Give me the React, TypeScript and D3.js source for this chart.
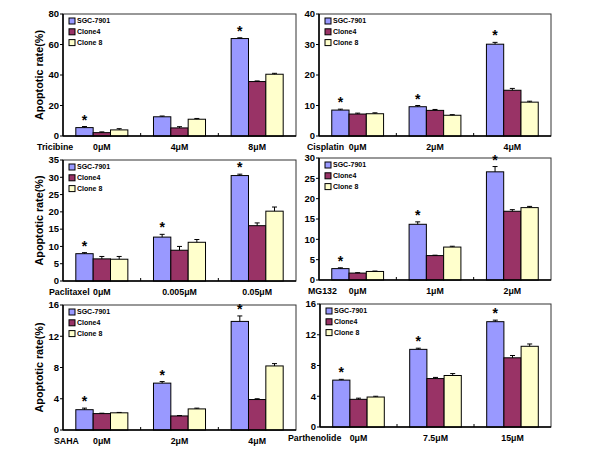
import React from "react";
import * as d3 from "d3";

// series names and colours (Excel-like palette)
const seriesNames = ["SGC-7901", "Clone4", "Clone 8"];
const seriesColors = ["#9999FF", "#993366", "#FFFFCC"];

// --- Tricibine
const tricibineDoses = ["0μM", "4μM", "8μM"];
const tricibineValues = [
  [5.5, 12.6, 63.9],
  [2.2, 5.3, 35.7],
  [4.0, 11.0, 40.5],
];
const tricibineErrors = [
  [0.7, 0.5, 0.5],
  [0.5, 0.8, 0.4],
  [0.8, 0.5, 0.6],
];
const tricibineStars = [true, false, true];
const tricibineTicks = [0, 20, 40, 60, 80];

// --- Cisplatin
const cisplatinDoses = ["0μM", "2μM", "4μM"];
const cisplatinValues = [
  [8.5, 9.6, 30.1],
  [7.2, 8.4, 15.0],
  [7.3, 6.8, 11.1],
];
const cisplatinErrors = [
  [0.3, 0.4, 0.6],
  [0.3, 0.3, 0.6],
  [0.3, 0.2, 0.3],
];
const cisplatinStars = [true, true, true];
const cisplatinTicks = [0, 10, 20, 30, 40];

// --- Paclitaxel
const paclitaxelDoses = ["0μM", "0.005μM", "0.05μM"];
const paclitaxelValues = [
  [7.9, 12.7, 30.5],
  [6.4, 8.9, 16.0],
  [6.3, 11.2, 20.2],
];
const paclitaxelErrors = [
  [0.3, 0.8, 0.4],
  [0.7, 1.1, 0.8],
  [0.8, 0.8, 1.2],
];
const paclitaxelStars = [true, true, true];
const paclitaxelTicks = [0, 5, 10, 15, 20, 25, 30, 35];

// --- MG132
const mg132Doses = ["0μM", "1μM", "2μM"];
const mg132Values = [
  [2.8, 13.7, 26.6],
  [1.7, 6.0, 16.9],
  [2.1, 8.1, 17.8],
];
const mg132Errors = [
  [0.2, 0.6, 1.3],
  [0.1, 0.1, 0.4],
  [0.1, 0.2, 0.3],
];
const mg132Stars = [true, true, true];
const mg132Ticks = [0, 5, 10, 15, 20, 25, 30];

// --- SAHA
const sahaDoses = ["0μM", "2μM", "4μM"];
const sahaValues = [
  [2.6, 6.0, 13.9],
  [2.1, 1.8, 3.9],
  [2.2, 2.7, 8.2],
];
const sahaErrors = [
  [0.2, 0.2, 0.7],
  [0.05, 0.05, 0.1],
  [0.05, 0.1, 0.3],
];
const sahaStars = [true, true, true];
const sahaTicks = [0, 4, 8, 12, 16];

// --- Parthenolide
const parthenolideDoses = ["0μM", "7.5μM", "15μM"];
const parthenolideValues = [
  [6.1, 10.1, 13.7],
  [3.6, 6.3, 9.0],
  [3.9, 6.7, 10.5],
];
const parthenolideErrors = [
  [0.1, 0.15, 0.2],
  [0.15, 0.15, 0.3],
  [0.1, 0.25, 0.3],
];
const parthenolideStars = [true, true, true];
const parthenolideTicks = [0, 4, 8, 12, 16];

const font = "'Liberation Sans', Arial, sans-serif";

interface PanelProps {
  drug: string;
  doses: string[];
  values: number[][];
  errors: number[][];
  stars: boolean[];
  ticks: number[];
  box: { left: number; right: number; top: number; bottom: number };
  drugX: number;
  yTitle?: boolean;
}

const Panel: React.FC<PanelProps> = ({ drug, doses, values, errors, stars, ticks, box, drugX, yTitle }) => {
  const x = d3
    .scaleBand<string>()
    .domain(doses)
    .range([box.left, box.right])
    .paddingInner(0.33)
    .paddingOuter(0.165);
  const xs = d3.scaleBand<number>().domain(d3.range(seriesNames.length)).range([0, x.bandwidth()]);
  const y = d3
    .scaleLinear()
    .domain([0, d3.max(ticks)!])
    .range([box.bottom, box.top]);
  const step = x.step();

  return (
    <g>
      <rect
        x={box.left}
        y={box.top}
        width={box.right - box.left}
        height={box.bottom - box.top}
        fill="white"
        stroke="#333"
        strokeWidth={1}
      />
      {/* bars */}
      {values.map((row, s) =>
        row.map((v, i) => {
          const bx = x(doses[i])! + xs(s)!;
          const top = y(v);
          const errTop = y(v + errors[s][i]);
          const cx = bx + xs.bandwidth() / 2;
          return (
            <g key={`${s}-${i}`}>
              <rect
                x={bx}
                y={top}
                width={xs.bandwidth()}
                height={y(0) - top}
                fill={seriesColors[s]}
                stroke="black"
                strokeWidth={1}
              />
              <line x1={cx} x2={cx} y1={top} y2={errTop} stroke="black" strokeWidth={1} />
              <line x1={cx - 2.5} x2={cx + 2.5} y1={errTop} y2={errTop} stroke="black" strokeWidth={1} />
              {s === 0 && stars[i] && (
                <text
                  x={cx}
                  y={errTop - 2}
                  textAnchor="middle"
                  fontFamily={font}
                  fontWeight="bold"
                  fontSize={14}
                >
                  *
                </text>
              )}
            </g>
          );
        })
      )}
      {/* axes */}
      <line x1={box.left} x2={box.left} y1={box.top} y2={box.bottom} stroke="black" strokeWidth={1.5} />
      <line x1={box.left} x2={box.right} y1={box.bottom} y2={box.bottom} stroke="black" strokeWidth={1.5} />
      {ticks.map((t) => (
        <g key={t}>
          <line x1={box.left - 3} x2={box.left} y1={y(t)} y2={y(t)} stroke="black" />
          <text
            x={box.left - 4}
            y={y(t)}
            dy="0.35em"
            textAnchor="end"
            fontFamily={font}
            fontWeight="bold"
            fontSize={9.5}
          >
            {t}
          </text>
        </g>
      ))}
      {doses.slice(1).map((d) => {
        const tx = x(d)! - (step - x.bandwidth()) / 2;
        return <line key={d} x1={tx} x2={tx} y1={box.bottom} y2={box.bottom - 3} stroke="black" />;
      })}
      {doses.map((d) => (
        <text
          key={d}
          x={x(d)! + x.bandwidth() / 2}
          y={box.bottom + 14}
          textAnchor="middle"
          fontFamily={font}
          fontWeight="bold"
          fontSize={8.8}
        >
          {d}
        </text>
      ))}
      <text x={drugX} y={box.bottom + 14} fontFamily={font} fontWeight="bold" fontSize={8.8}>
        {drug}
      </text>
      {/* legend */}
      {seriesNames.map((n, s) => (
        <g key={n}>
          <rect
            x={box.left + 6}
            y={box.top + 4 + s * 10.8}
            width={6}
            height={6}
            fill={seriesColors[s]}
            stroke="black"
            strokeWidth={1}
          />
          <text
            x={box.left + 14}
            y={box.top + 7 + s * 10.8}
            dy="0.35em"
            fontFamily={font}
            fontWeight="bold"
            fontSize={7}
          >
            {n}
          </text>
        </g>
      ))}
      {yTitle && (
        <text
          transform={`translate(39,${(box.top + box.bottom) / 2}) rotate(-90)`}
          textAnchor="middle"
          dy="0.35em"
          fontFamily={font}
          fontWeight="bold"
          fontSize={10.8}
        >
          Apoptotic rate(%)
        </text>
      )}
    </g>
  );
};

export default function App() {
  return (
    <svg
      width={600}
      height={450}
      viewBox="0 0 600 450"
      style={{ position: "absolute", left: 0, top: 0, background: "white" }}
    >
      <Panel
        drug="Tricibine"
        doses={tricibineDoses}
        values={tricibineValues}
        errors={tricibineErrors}
        stars={tricibineStars}
        ticks={tricibineTicks}
        box={{ left: 63, right: 296, top: 14, bottom: 136 }}
        drugX={37}
        yTitle
      />
      <Panel
        drug="Cisplatin"
        doses={cisplatinDoses}
        values={cisplatinValues}
        errors={cisplatinErrors}
        stars={cisplatinStars}
        ticks={cisplatinTicks}
        box={{ left: 319, right: 551, top: 14, bottom: 136 }}
        drugX={307}
      />
      <Panel
        drug="Paclitaxel"
        doses={paclitaxelDoses}
        values={paclitaxelValues}
        errors={paclitaxelErrors}
        stars={paclitaxelStars}
        ticks={paclitaxelTicks}
        box={{ left: 63, right: 296, top: 160, bottom: 281 }}
        drugX={49}
        yTitle
      />
      <Panel
        drug="MG132"
        doses={mg132Doses}
        values={mg132Values}
        errors={mg132Errors}
        stars={mg132Stars}
        ticks={mg132Ticks}
        box={{ left: 319, right: 551, top: 158, bottom: 280 }}
        drugX={308}
      />
      <Panel
        drug="SAHA"
        doses={sahaDoses}
        values={sahaValues}
        errors={sahaErrors}
        stars={sahaStars}
        ticks={sahaTicks}
        box={{ left: 63, right: 296, top: 305, bottom: 430 }}
        drugX={54}
        yTitle
      />
      <Panel
        drug="Parthenolide"
        doses={parthenolideDoses}
        values={parthenolideValues}
        errors={parthenolideErrors}
        stars={parthenolideStars}
        ticks={parthenolideTicks}
        box={{ left: 320, right: 551, top: 304, bottom: 427 }}
        drugX={288}
      />
    </svg>
  );
}
